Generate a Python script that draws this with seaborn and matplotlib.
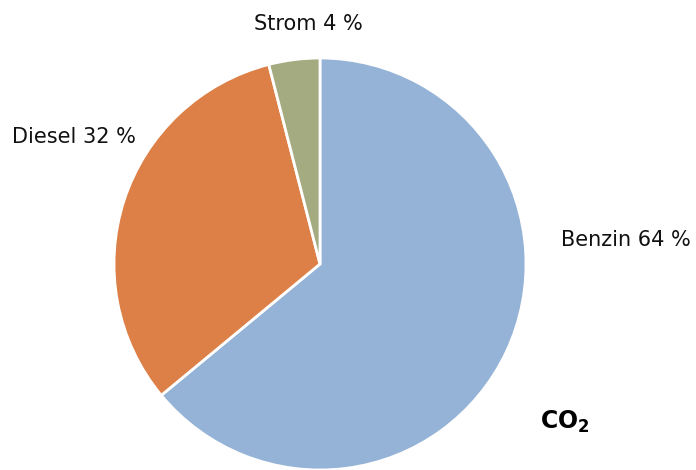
import matplotlib
matplotlib.use("Agg")
import matplotlib.pyplot as plt
import seaborn as sns

# Daten
kategorien = ["Benzin", "Diesel", "Strom"]
anteile = [64, 32, 4]
farben = ["#95B3D7", "#DD8047", "#A5AB81"]

sns.set_theme(style="white")
plt.rcParams['font.family'] = ['DejaVu Sans']
plt.rcParams['mathtext.fontset'] = 'dejavusans'

fig = plt.figure(figsize=(6.96, 4.70), dpi=100)
ax = fig.add_axes([0, 0, 1, 1])

wedges, _ = ax.pie(anteile, colors=farben, startangle=90, counterclock=False,
                   center=(320, 206), radius=206,
                   wedgeprops=dict(edgecolor="white", linewidth=2))
ax.set_xlim(0, 696)
ax.set_ylim(0, 470)
ax.set_aspect('equal')
ax.axis('off')

# Beschriftungen
ax.text(308, 446, f"{kategorien[2]} {anteile[2]} %", fontsize=15, ha='center', va='center', color='#111111')
ax.text(74, 333, f"{kategorien[1]} {anteile[1]} %", fontsize=15, ha='center', va='center', color='#111111')
ax.text(626, 230, f"{kategorien[0]} {anteile[0]} %", fontsize=15, ha='center', va='center', color='#111111')

ax.text(540, 48, r"$\mathbf{CO_2}$", fontsize=17, ha='left', va='center', color='black')

fig.savefig("out.png", dpi=100, facecolor='white')
